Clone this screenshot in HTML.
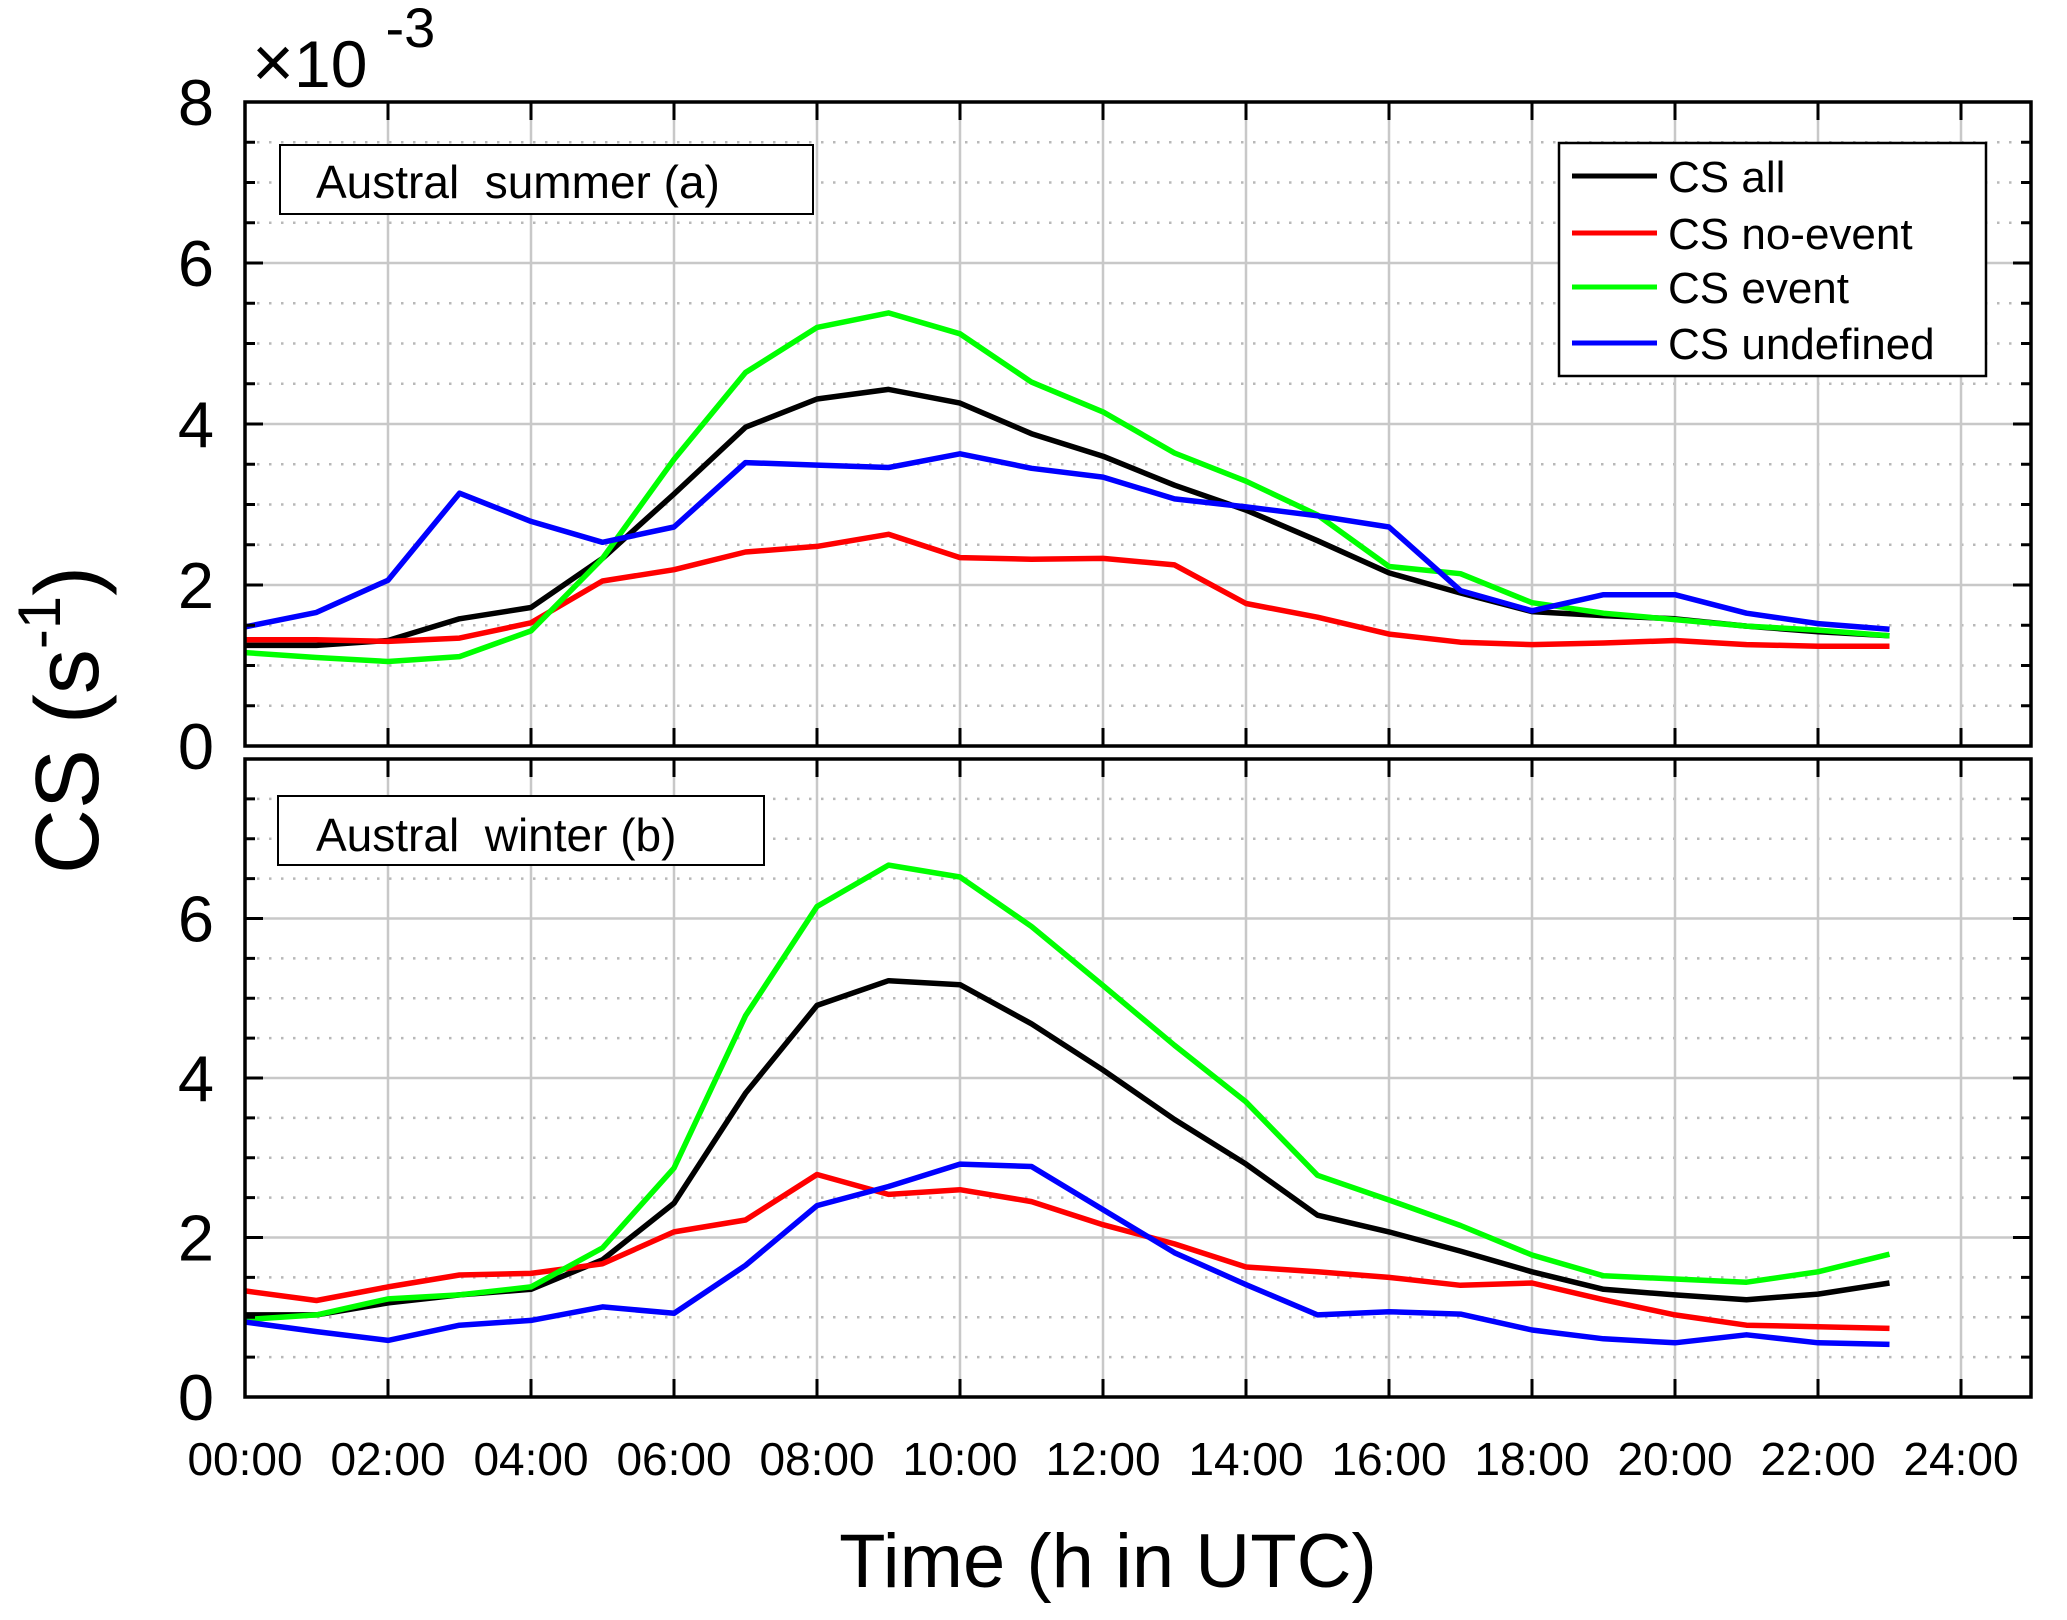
<!DOCTYPE html>
<html><head><meta charset="utf-8"><style>
html,body{margin:0;padding:0;background:#fff;}
svg{display:block;font-family:"Liberation Sans",Arial,sans-serif;}
</style></head><body>
<svg id="chart" width="2067" height="1620" viewBox="0 0 2067 1620" xmlns="http://www.w3.org/2000/svg">
<g id="grid"></g>
<g id="series"></g>
<g id="axes"></g>
<g id="labels"></g>
<text x="252" y="87" font-size="66"><tspan font-size="72">×</tspan>10<tspan font-size="56" dy="-40" dx="18">-3</tspan></text>
<text transform="translate(98,720) rotate(-90)" text-anchor="middle" font-size="90">CS (s<tspan font-size="60" dy="-38">-1</tspan><tspan dy="38">)</tspan></text>
<text x="1108" y="1587" text-anchor="middle" font-size="76">Time (h in UTC)</text>
<g>
<rect x="280" y="145" width="533" height="69" fill="#fff" stroke="#000" stroke-width="2"/>
<text x="316" y="198" font-size="46" xml:space="preserve">Austral  summer (a)</text>
</g>
<g>
<rect x="278" y="796" width="486" height="69" fill="#fff" stroke="#000" stroke-width="2"/>
<text x="316" y="851" font-size="46" xml:space="preserve">Austral  winter (b)</text>
</g>
<g id="legend">
<rect x="1559" y="143" width="427" height="233" fill="#fff" stroke="#000" stroke-width="2.5"/>
</g>
</svg>
<script>
const hours = [0,1,2,3,4,5,6,7,8,9,10,11,12,13,14,15,16,17,18,19,20,21,22,23];
const xTickValues = [0,2,4,6,8,10,12,14,16,18,20,22,24];
const xTickLabels = ["00:00","02:00","04:00","06:00","08:00","10:00","12:00","14:00","16:00","18:00","20:00","22:00","24:00"];
const yTickValues = [0,2,4,6,8];
const yTickLabels = ["0","2","4","6","8"];
const seriesNames = ["CS all","CS no-event","CS event","CS undefined"];
const seriesColors = ["#000000","#ff0000","#00ff00","#0000ff"];
// Panel (a) austral summer
const summerAll = [1.25,1.25,1.31,1.58,1.72,2.33,3.13,3.96,4.31,4.43,4.26,3.88,3.6,3.24,2.93,2.55,2.15,1.9,1.67,1.62,1.58,1.49,1.42,1.37];
const summerNoEvent = [1.32,1.32,1.3,1.34,1.53,2.05,2.19,2.41,2.48,2.63,2.34,2.32,2.33,2.25,1.77,1.6,1.39,1.29,1.26,1.28,1.31,1.26,1.24,1.24];
const summerEvent = [1.16,1.1,1.05,1.11,1.43,2.33,3.56,4.64,5.2,5.38,5.12,4.52,4.15,3.64,3.29,2.87,2.23,2.14,1.78,1.65,1.57,1.49,1.44,1.37];
const summerUndef = [1.48,1.66,2.06,3.14,2.79,2.53,2.72,3.52,3.49,3.46,3.63,3.45,3.34,3.07,2.97,2.86,2.72,1.93,1.68,1.88,1.88,1.65,1.52,1.45];
// Panel (b) austral winter
const winterAll = [1.03,1.03,1.18,1.28,1.35,1.72,2.43,3.81,4.91,5.22,5.17,4.68,4.1,3.48,2.92,2.28,2.07,1.83,1.57,1.35,1.28,1.22,1.29,1.43];
const winterNoEvent = [1.33,1.21,1.38,1.53,1.55,1.67,2.07,2.22,2.79,2.54,2.6,2.45,2.16,1.92,1.63,1.57,1.5,1.4,1.43,1.22,1.03,0.9,0.88,0.86];
const winterEvent = [0.97,1.03,1.23,1.28,1.38,1.87,2.87,4.78,6.15,6.67,6.52,5.9,5.16,4.41,3.7,2.78,2.47,2.15,1.78,1.52,1.48,1.44,1.57,1.79];
const winterUndef = [0.94,0.82,0.71,0.9,0.96,1.13,1.05,1.65,2.4,2.64,2.92,2.89,2.35,1.81,1.41,1.03,1.07,1.04,0.84,0.73,0.68,0.78,0.68,0.66];

const NS="http://www.w3.org/2000/svg";
const X0=245, XPH=71.5, XR=2031;
const panels=[
  {id:"a",top:102,bot:746,series:[summerAll,summerNoEvent,summerEvent,summerUndef]},
  {id:"b",top:759,bot:1397,series:[winterAll,winterNoEvent,winterEvent,winterUndef]}
];
function xs(h){return X0+h*XPH;}
function ysFor(p){return v=>p.bot-(v/8)*(p.bot-p.top);}
function mk(tag,attrs,parent){const e=document.createElementNS(NS,tag);for(const k in attrs)e.setAttribute(k,attrs[k]);parent.appendChild(e);return e;}
const G=document.getElementById("grid"),S=document.getElementById("series"),A=document.getElementById("axes"),L=document.getElementById("labels");

panels.forEach(p=>{
  const ys=ysFor(p);
  for(let v=0.5;v<8;v+=0.5){
    if(v%2===0)continue;
    const ln=mk("line",{x1:X0,x2:XR,y1:ys(v),y2:ys(v),stroke:"#b8b8b8","stroke-width":2.5,"stroke-dasharray":"2.5 9.5"},G);
    
    
  }
  yTickValues.forEach(v=>{
    if(v===0||v===8)return;
    const ln=mk("line",{x1:X0,x2:XR,y1:ys(v),y2:ys(v),stroke:"#c8c8c8","stroke-width":2.5},G);
    
    
  });
  xTickValues.forEach(h=>{
    if(h===0)return;
    const ln=mk("line",{x1:xs(h),x2:xs(h),y1:p.top,y2:p.bot,stroke:"#c8c8c8","stroke-width":2.5},G);
    
    
  });
  p.series.forEach((arr,i)=>{
    const pts=arr.map((v,k)=>xs(hours[k]).toFixed(1)+","+ys(v).toFixed(1)).join(" ");
    const pl=mk("polyline",{points:pts,fill:"none",stroke:seriesColors[i],"stroke-width":5.5,"stroke-linejoin":"round"},S);
    
    
  });
  xTickValues.forEach(h=>{
    if(h===0)return;
    const t1=mk("line",{x1:xs(h),x2:xs(h),y1:p.bot,y2:p.bot-18,stroke:"#000","stroke-width":3},A);
    
    
    const t2=mk("line",{x1:xs(h),x2:xs(h),y1:p.top,y2:p.top+18,stroke:"#000","stroke-width":3},A);
    
    
  });
  for(let v=0.5;v<8;v+=0.5){
    const len=(v%2===0)?18:10;
    const t1=mk("line",{x1:X0,x2:X0+len,y1:ys(v),y2:ys(v),stroke:"#000","stroke-width":3},A);
    
    
    const t2=mk("line",{x1:XR,x2:XR-len,y1:ys(v),y2:ys(v),stroke:"#000","stroke-width":3},A);
    
    
  }
  const fr=mk("rect",{x:X0,y:p.top,width:XR-X0,height:p.bot-p.top,fill:"none",stroke:"#000","stroke-width":3.5},A);
  
  
  yTickValues.forEach((v,i)=>{
    if(p.id==="b"&&v===8)return;
    const t=mk("text",{x:214,y:ys(v)+23,"text-anchor":"end","font-size":65},L);
    t.textContent=yTickLabels[i];
    
    
  });
});
xTickValues.forEach((h,i)=>{
  const t=mk("text",{x:xs(h),y:1475,"text-anchor":"middle","font-size":46},L);
  t.textContent=xTickLabels[i];
  
  
});
const LG=document.getElementById("legend");
const legendRows=[176,233,287,343];
seriesNames.forEach((n,i)=>{
  const ln=mk("line",{x1:1572,x2:1657,y1:legendRows[i],y2:legendRows[i],stroke:seriesColors[i],"stroke-width":5},LG);
  
  
  const t=mk("text",{x:1668,y:legendRows[i]+16,"font-size":44},LG);
  t.textContent=n;
  
  
});
</script>
</body></html>
